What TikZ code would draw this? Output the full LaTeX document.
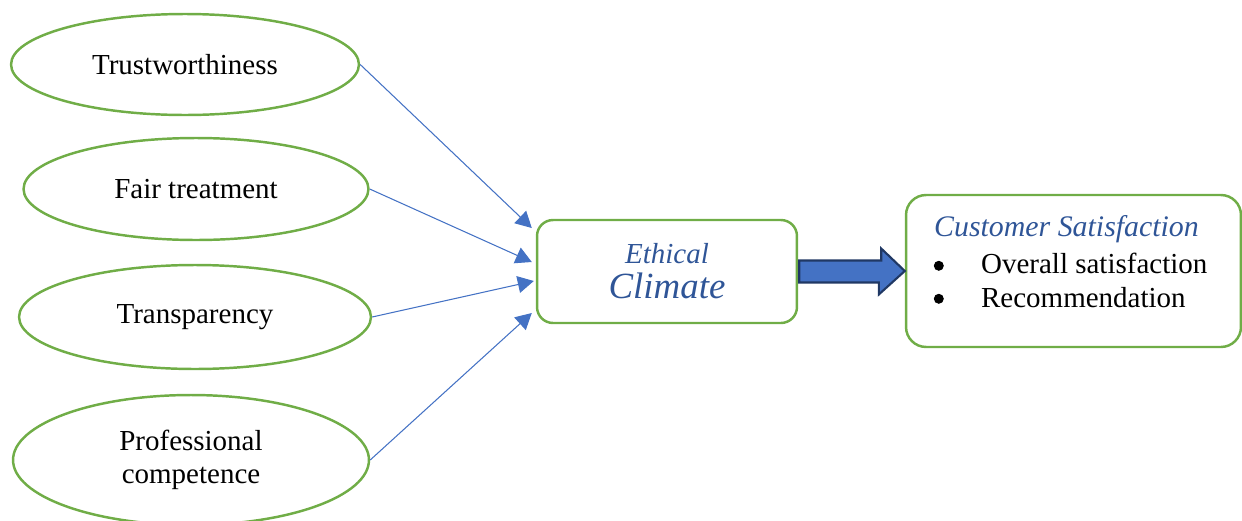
\documentclass[tikz,border=0pt]{standalone}
\usepackage{fontspec}
\setmainfont{Liberation Serif}
\usetikzlibrary{shapes.geometric,arrows.meta,calc}
\definecolor{leafgreen}{HTML}{70AD47}
\definecolor{linkblue}{HTML}{4472C4}
\definecolor{titleblue}{HTML}{2F5597}
\definecolor{navyedge}{HTML}{203864}
\begin{document}
\begin{tikzpicture}[x=0.02cm,y=-0.02cm,
	factor/.style={ellipse,draw=leafgreen,line width=1.4pt,inner sep=0pt,align=center,font=\fontsize{16.5}{19}\selectfont},
	box/.style={draw=leafgreen,line width=1.4pt,rounded corners=0.32cm,inner sep=0pt},
	link/.style={linkblue,line width=0.6pt,-{Triangle[length=0.32cm,width=0.34cm]}},
	dot/.style={circle,fill=black,inner sep=0pt,minimum size=0.2cm}]
		\useasboundingbox (0,0) rectangle (1242,521);
		\node[factor,minimum width=6.96cm,minimum height=2.02cm](trust) at (185,64.5) {Trustworthiness};
		\node[factor,minimum width=6.9cm,minimum height=2.04cm](fair) at (196,189) {Fair treatment};
		\node[factor,minimum width=7.04cm,minimum height=2.08cm](transp) at (195,317) {Transparency};
		\node[factor,minimum width=7.12cm,minimum height=2.6cm](prof) at (191,460) {Professional\\competence};
		\node[box,minimum width=5.2cm,minimum height=2.06cm,align=center,text=titleblue,font=\itshape\fontsize{16.5}{20}\selectfont](clim) at (667,271.5)
			{Ethical\\{\fontsize{21}{20}\selectfont Climate}};
		\node[box,rounded corners=0.4cm,minimum width=6.7cm,minimum height=3.04cm](cust) at (1073.5,271) {};
		\node[anchor=base west,inner sep=0pt,text=titleblue,font=\itshape\fontsize{17}{18}\selectfont](custhead) at ($(cust.north west)+(29,43)$) {Customer Satisfaction};
		\node[dot](dot1) at ($(cust.north west)+(34,72)$) {};
		\node[dot](dot2) at ($(cust.north west)+(34,105)$) {};
		\node[anchor=base west,inner sep=0pt,font=\fontsize{16.5}{18}\selectfont](overall) at ($(cust.north west)+(76,80)$) {Overall satisfaction};
		\node[anchor=base west,inner sep=0pt,font=\fontsize{16.5}{18}\selectfont](recomm) at ($(cust.north west)+(76,114)$) {Recommendation};
		\draw[link](trust.east)--([xshift=-0.08cm,yshift=0.87cm]clim.west);
		\draw[link](fair.east)--([xshift=-0.08cm,yshift=0.19cm]clim.west);
		\draw[link](transp.east)--([xshift=-0.04cm,yshift=-0.19cm]clim.west);
		\draw[link](prof.east)--([xshift=-0.08cm,yshift=-0.83cm]clim.west);
		\draw[draw=navyedge,fill=linkblue,line width=1.2pt](clim.east)++(1,-11)--++(82,0)--++(0,-12)--(cust.west)--++(-26,23.5)--++(0,-12)--($(clim.east)+(1,11)$)--cycle;
	    \end{tikzpicture}
\end{document}
